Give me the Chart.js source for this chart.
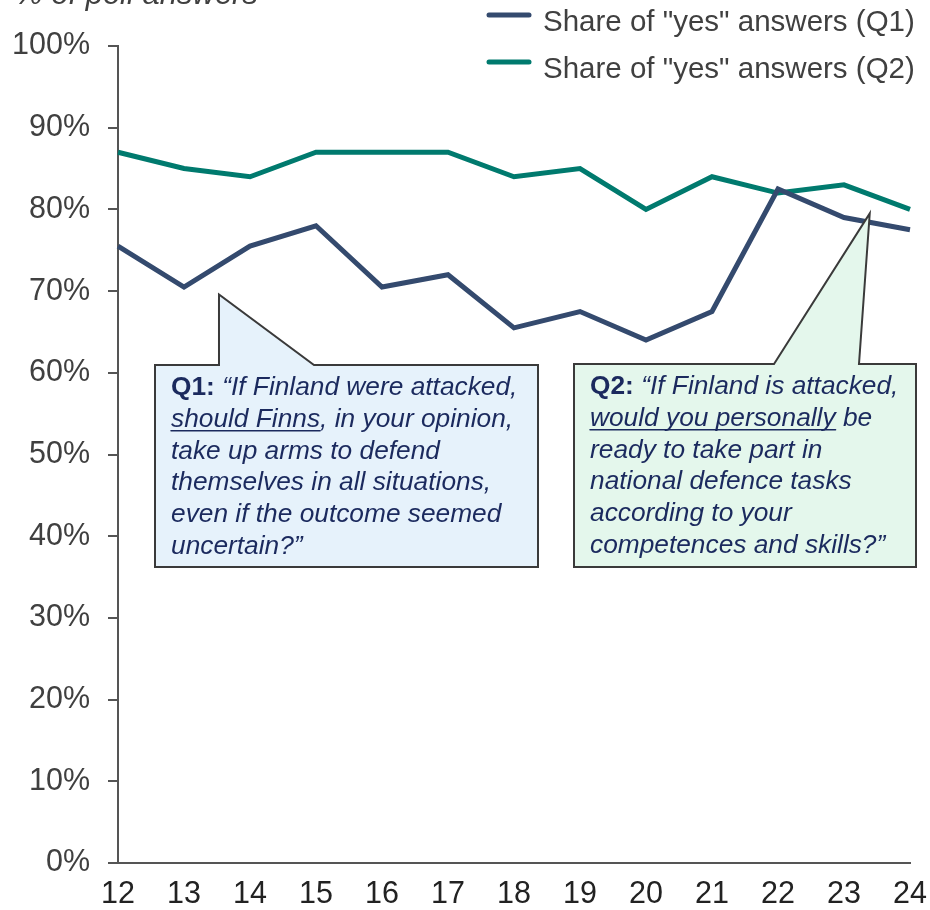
<!DOCTYPE html>
<html>
<head>
<meta charset="utf-8">
<script src="https://cdn.jsdelivr.net/npm/chart.js@4/dist/chart.umd.min.js"></script>
<style>
  html, body { margin: 0; padding: 0; background: #fff; }
  #wrap { width: 930px; height: 910px; }
</style>
</head>
<body>
<div id="wrap"><canvas id="poll"></canvas></div>
<script>
const years = ["12", "13", "14", "15", "16", "17", "18", "19", "20", "21", "22", "23", "24"];
const q1Yes = [75.5, 70.5, 75.5, 78, 70.5, 72, 65.5, 67.5, 64, 67.5, 82.5, 79, 77.5];
const q2Yes = [87, 85, 84, 87, 87, 87, 84, 85, 80, 84, 82, 83, 80];
const seriesNames = ['Share of "yes" answers (Q1)', 'Share of "yes" answers (Q2)'];
const yTicks = [0, 10, 20, 30, 40, 50, 60, 70, 80, 90, 100];

const NAVY = "#344a6e";
const TEAL = "#007a6e";
const AXIS = "#555555";
const TEXT = "#404040";
const NOTE = "#1b2a5e";
const FONT = "'Liberation Sans', Arial, sans-serif";

// question boxes: the pointer tip is given in data units (x index, y %)
const notes = [
  {
    box: [155, 365, 538, 567], base: [219, 314], tip: [1.53, 69.6],
    fill: "#e6f2fb", textX: 171,
    lines: [
      [{ t: "Q1: ", b: true }, { t: "\u201CIf Finland were attacked," }],
      [{ t: "should Finns", u: true }, { t: ", in your opinion," }],
      [{ t: "take up arms to defend" }],
      [{ t: "themselves in all situations," }],
      [{ t: "even if the outcome seemed" }],
      [{ t: "uncertain?\u201D" }]
    ]
  },
  {
    box: [574, 364, 916, 567], base: [774, 859], tip: [11.39, 79.5],
    fill: "#e4f7ec", textX: 590,
    lines: [
      [{ t: "Q2: ", b: true }, { t: "\u201CIf Finland is attacked," }],
      [{ t: "would you personally", u: true }, { t: " be" }],
      [{ t: "ready to take part in" }],
      [{ t: "national defence tasks" }],
      [{ t: "according to your" }],
      [{ t: "competences and skills?\u201D" }]
    ]
  }
];

const extras = {
  id: "extras",
  afterDraw(chart) {
    const ctx = chart.ctx;
    const xs = chart.scales.x, ys = chart.scales.y;
    ctx.save();

    // axis caption, mostly cut off at the top
    ctx.fillStyle = TEXT;
    ctx.font = "italic 31px " + FONT;
    ctx.textAlign = "left";
    ctx.textBaseline = "alphabetic";
    ctx.fillText("% of poll answers", 15, 4);

    // legend
    ctx.font = "29.5px " + FONT;
    ctx.textBaseline = "middle";
    chart.data.datasets.forEach((ds, i) => {
      const y = 15 + i * 47;
      ctx.strokeStyle = ds.borderColor;
      ctx.lineWidth = 5;
      ctx.lineCap = "round";
      ctx.beginPath();
      ctx.moveTo(489, y);
      ctx.lineTo(529, y);
      ctx.stroke();
      ctx.fillStyle = TEXT;
      ctx.fillText(ds.label, 543, y + 8);
    });

    // callouts
    notes.forEach(n => {
      const [l, t, r, b] = n.box;
      const tx = xs.getPixelForValue(n.tip[0]);
      const ty = ys.getPixelForValue(n.tip[1]);
      ctx.beginPath();
      ctx.moveTo(l, t);
      ctx.lineTo(n.base[0], t);
      ctx.lineTo(tx, ty);
      ctx.lineTo(n.base[1], t);
      ctx.lineTo(r, t);
      ctx.lineTo(r, b);
      ctx.lineTo(l, b);
      ctx.closePath();
      ctx.fillStyle = n.fill;
      ctx.fill();
      ctx.strokeStyle = "#3a3a3a";
      ctx.lineWidth = 2;
      ctx.lineJoin = "miter";
      ctx.stroke();

      ctx.fillStyle = NOTE;
      ctx.strokeStyle = NOTE;
      ctx.textBaseline = "alphabetic";
      n.lines.forEach((runs, k) => {
        const by = t + 30 + k * 31.8;
        let x = n.textX;
        runs.forEach(run => {
          ctx.font = (run.b ? "bold " : "italic ") + "26.3px " + FONT;
          ctx.fillText(run.t, x, by);
          const w = ctx.measureText(run.t).width;
          if (run.u) {
            ctx.lineWidth = 1.5;
            ctx.beginPath();
            ctx.moveTo(x, by + 4);
            ctx.lineTo(x + w, by + 4);
            ctx.stroke();
          }
          x += w;
        });
      });
    });
    ctx.restore();
  }
};

new Chart(document.getElementById("poll"), {
  type: "line",
  data: {
    labels: years,
    datasets: [
      { label: seriesNames[0], data: q1Yes, borderColor: NAVY, backgroundColor: NAVY },
      { label: seriesNames[1], data: q2Yes, borderColor: TEAL, backgroundColor: TEAL }
    ]
  },
  options: {
    responsive: true,
    maintainAspectRatio: false,
    animation: false,
    layout: { padding: { top: 46, right: 20, left: 0, bottom: 0 } },
    elements: {
      line: { borderWidth: 5, tension: 0, borderJoinStyle: "miter" },
      point: { radius: 0, hoverRadius: 0 }
    },
    plugins: { legend: { display: false }, tooltip: { enabled: false } },
    scales: {
      x: {
        offset: false,
        grid: { display: true, drawOnChartArea: false, drawTicks: false },
        border: { display: true, color: AXIS, width: 2 },
        ticks: { color: "#222", font: { family: FONT, size: 30.5 }, padding: 13, maxRotation: 0, autoSkip: false },
        afterFit: s => { s.height = 47; s.paddingRight = 0; }
      },
      y: {
        min: 0, max: 100,
        afterBuildTicks: s => { s.ticks = yTicks.map(v => ({ value: v })); },
        grid: { display: true, drawOnChartArea: false, drawTicks: true, tickLength: 10, color: AXIS, lineWidth: 2 },
        border: { display: true, color: AXIS, width: 2 },
        ticks: { color: TEXT, font: { family: FONT, size: 30.5 }, padding: 18, callback: v => v + "%" },
        afterFit: s => { s.width = 118; }
      }
    }
  },
  plugins: [extras]
});
</script>
</body>
</html>
